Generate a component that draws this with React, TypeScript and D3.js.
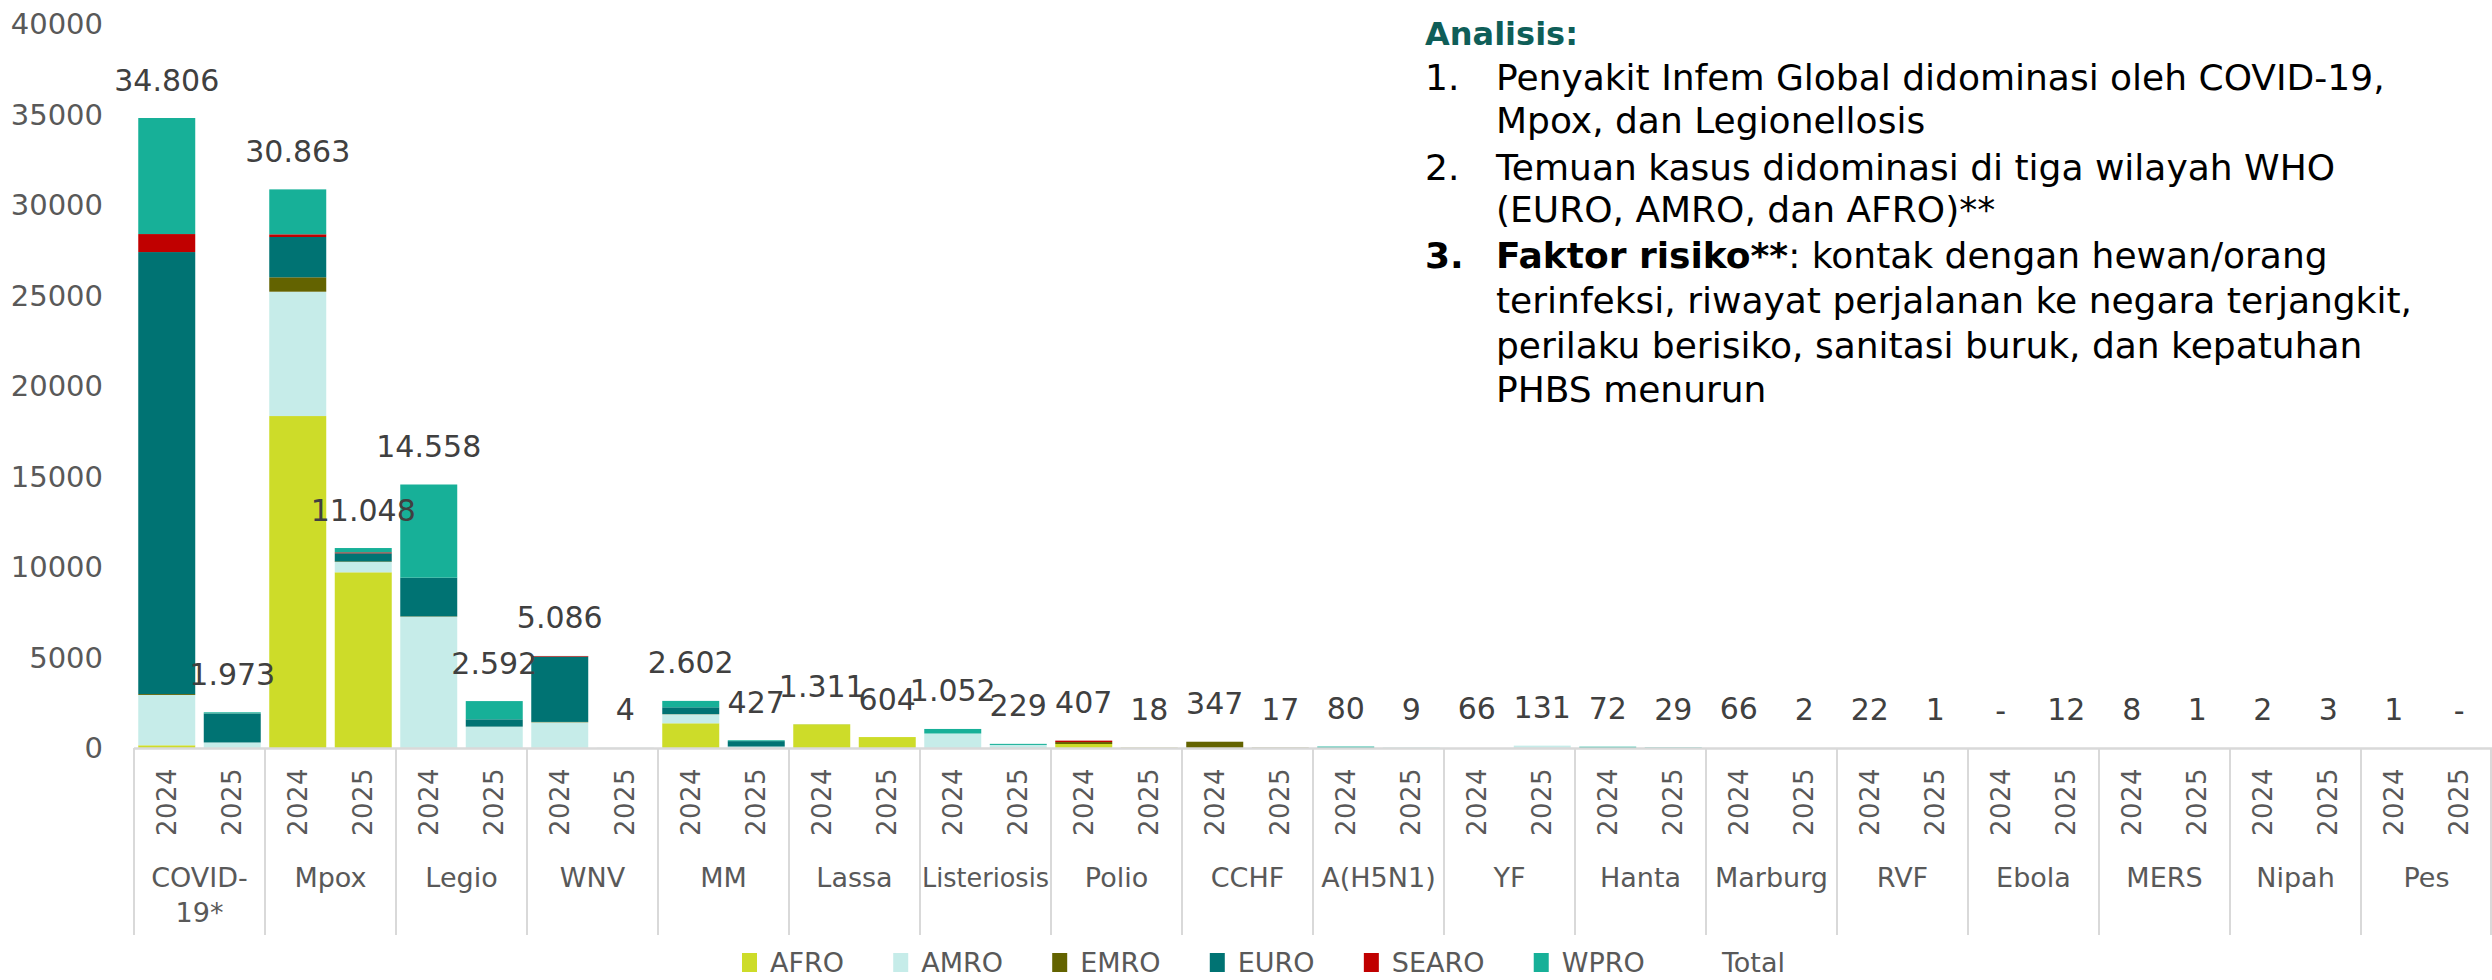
import React, { useEffect, useRef } from "react";
import * as d3 from "d3";

const W = 2492;
const H = 980;
const FONT = "'Century Gothic', 'DejaVu Sans', sans-serif";

const categories = [
  "COVID-19*", "Mpox", "Legio", "WNV", "MM", "Lassa", "Listeriosis", "Polio", "CCHF",
  "A(H5N1)", "YF", "Hanta", "Marburg", "RVF", "Ebola", "MERS", "Nipah", "Pes",
];
const years = ["2024", "2025"];
const regions = ["AFRO", "AMRO", "EMRO", "EURO", "SEARO", "WPRO"];
const regionColors = ["#CDDC29", "#C6ECE9", "#636300", "#007373", "#C00000", "#17B098"];

// [2024, 2025] per category
const AFRO = [[150, 5], [18340, 9707], [10, 0], [10, 0], [1365, 0], [1308, 604], [0, 0], [220, 10], [0, 0], [0, 0], [0, 0], [0, 0], [0, 0], [0, 0], [0, 0], [0, 0], [0, 0], [0, 0]];
const AMRO = [[2780, 300], [6870, 569], [7244, 1177], [1410, 0], [497, 80], [0, 0], [800, 170], [0, 0], [0, 0], [0, 0], [0, 131], [0, 0], [0, 0], [0, 0], [0, 0], [0, 0], [0, 0], [0, 0]];
const EMRO = [[50, 0], [796, 30], [20, 5], [20, 0], [10, 0], [0, 0], [0, 0], [110, 8], [347, 17], [0, 0], [0, 0], [0, 0], [0, 0], [0, 0], [0, 0], [0, 0], [0, 0], [0, 0]];
const EURO = [[24420, 1600], [2226, 451], [2135, 403], [3604, 4], [377, 300], [3, 0], [0, 0], [0, 0], [0, 0], [0, 0], [0, 0], [0, 0], [0, 0], [0, 0], [0, 0], [0, 0], [0, 0], [0, 0]];
const SEARO = [[995, 3], [149, 53], [0, 0], [36, 0], [0, 0], [0, 0], [0, 0], [77, 0], [0, 0], [0, 0], [0, 0], [0, 0], [0, 0], [0, 0], [0, 0], [0, 0], [0, 0], [0, 0]];
const WPRO = [[6411, 65], [2482, 238], [5149, 1007], [6, 0], [353, 47], [0, 0], [252, 59], [0, 0], [0, 0], [80, 9], [0, 0], [72, 29], [0, 0], [0, 0], [0, 0], [0, 0], [0, 0], [0, 0]];

const totals2024 = [34806, 30863, 14558, 5086, 2602, 1311, 1052, 407, 347, 80, 66, 72, 66, 22, 0, 8, 2, 1];
const totals2025 = [1973, 11048, 2592, 4, 427, 604, 229, 18, 17, 9, 131, 29, 2, 1, 12, 1, 3, 0];

const yTicks = [0, 5000, 10000, 15000, 20000, 25000, 30000, 35000, 40000];

const analysisTitle = "Analisis:";
const analysisItems = [
  { num: "1.", bold: "", lines: ["Penyakit Infem Global didominasi oleh COVID-19,", "Mpox, dan Legionellosis"] },
  { num: "2.", bold: "", lines: ["Temuan kasus didominasi di tiga wilayah WHO", "(EURO, AMRO, dan AFRO)**"] },
  { num: "3.", bold: "Faktor risiko**", lines: [": kontak dengan hewan/orang", "terinfeksi, riwayat perjalanan ke negara terjangkit,", "perilaku berisiko, sanitasi buruk, dan kepatuhan", "PHBS menurun"] },
];

const seriesData = [AFRO, AMRO, EMRO, EURO, SEARO, WPRO];

export default function App() {
  const ref = useRef<SVGSVGElement | null>(null);

  useEffect(() => {
    document.body.style.margin = "0";
    const svg = d3.select(ref.current);
    svg.selectAll("*").remove();

    const x0 = d3.scaleBand<string>().domain(categories).range([134, 2492]).paddingInner(0).paddingOuter(0);
    const x1 = d3.scaleBand<string>().domain(years).range([0, x0.bandwidth()]).paddingInner(0.13).paddingOuter(0.065);
    const y = d3.scaleLinear().domain([0, 40000]).range([748, 24]);

    const rows: any[] = [];
    categories.forEach((c, i) => {
      years.forEach((yr, j) => {
        const r: any = { cat: c, year: yr, total: j === 0 ? totals2024[i] : totals2025[i] };
        regions.forEach((reg, k) => (r[reg] = seriesData[k][i][j]));
        rows.push(r);
      });
    });

    const stack = d3.stack<any>().keys(regions);
    const layers = stack(rows);
    const bx = (d: any) => (x0(d.cat) as number) + (x1(d.year) as number);

    // bars
    const g = svg.append("g");
    layers.forEach((layer, k) => {
      g.append("g")
        .attr("fill", regionColors[k])
        .selectAll("rect")
        .data(layer)
        .join("rect")
        .attr("x", (d: any) => bx(d.data))
        .attr("width", x1.bandwidth())
        .attr("y", (d: any) => y(d[1]))
        .attr("height", (d: any) => Math.max(0, y(d[0]) - y(d[1])));
    });

    // axis line & separators
    const axisColor = "#D9D9D9";
    svg.append("line").attr("x1", 134).attr("x2", 2492).attr("y1", 748.5).attr("y2", 748.5)
      .attr("stroke", axisColor).attr("stroke-width", 2.5);
    const seps = categories.map((c) => x0(c) as number).concat([x0.range()[1] - 1]);
    svg.append("g").selectAll("line").data(seps).join("line")
      .attr("x1", (d) => d).attr("x2", (d) => d).attr("y1", 748).attr("y2", 935)
      .attr("stroke", axisColor).attr("stroke-width", 2);

    // y ticks
    svg.append("g").selectAll("text").data(yTicks).join("text")
      .attr("x", 103).attr("y", (d) => y(d))
      .attr("text-anchor", "end").attr("dominant-baseline", "central")
      .attr("font-family", FONT).attr("font-size", 29).attr("fill", "#595959")
      .text((d) => String(d));

    // year labels
    svg.append("g").selectAll("text").data(rows).join("text")
      .attr("transform", (d) => `translate(${bx(d) + x1.bandwidth() / 2},802) rotate(-90)`)
      .attr("text-anchor", "middle").attr("dominant-baseline", "central")
      .attr("font-family", FONT).attr("font-size", 26).attr("letter-spacing", 0.5).attr("fill", "#595959")
      .text((d) => d.year);

    // category labels (wrap at hyphen if too wide)
    const catG = svg.append("g");
    categories.forEach((c) => {
      const cx = (x0(c) as number) + x0.bandwidth() / 2;
      const t = catG.append("text").attr("x", cx).attr("y", 877)
        .attr("text-anchor", "middle").attr("dominant-baseline", "central")
        .attr("font-family", FONT).attr("font-size", 27).attr("fill", "#595959").text(c);
      const w = (t.node() as SVGTextElement).getComputedTextLength();
      if (w > x0.bandwidth() - 4 && c.includes("-")) {
        const idx = c.indexOf("-") + 1;
        t.text(null);
        t.append("tspan").attr("x", cx).attr("y", 877).text(c.slice(0, idx));
        t.append("tspan").attr("x", cx).attr("y", 912).text(c.slice(idx));
      } else if (w > x0.bandwidth() - 4) {
        t.attr("textLength", x0.bandwidth() - 4).attr("lengthAdjust", "spacingAndGlyphs");
      }
    });

    // total labels
    const fmt = d3.formatLocale({ decimal: ",", thousands: ".", grouping: [3], currency: ["", ""] }).format(",d");
    svg.append("g").selectAll("text").data(rows).join("text")
      .attr("x", (d) => bx(d) + x1.bandwidth() / 2)
      .attr("y", (d) => y(d.total) - 38)
      .attr("text-anchor", "middle").attr("dominant-baseline", "central")
      .attr("font-family", FONT).attr("font-size", 30).attr("fill", "#404040")
      .text((d) => (d.total === 0 ? "-" : fmt(d.total)));

    // legend
    const legendItems = regions.concat(["Total"]);
    const lg = svg.append("g");
    const items: any[] = [];
    legendItems.forEach((name, k) => {
      const it = lg.append("g");
      if (k < regions.length) {
        it.append("rect").attr("x", 0).attr("y", -9).attr("width", 15).attr("height", 19).attr("fill", regionColors[k]);
      }
      const t = it.append("text").attr("x", 28).attr("y", 0).attr("dominant-baseline", "central")
        .attr("font-family", FONT).attr("font-size", 27).attr("fill", "#595959").text(name);
      items.push({ g: it, w: 28 + (t.node() as SVGTextElement).getComputedTextLength() });
    });
    const legendStart = 742;
    const legendEnd = 1785;
    const gap = (legendEnd - legendStart - d3.sum(items, (d) => d.w)) / (items.length - 1);
    let cx = legendStart;
    items.forEach((it) => {
      it.g.attr("transform", `translate(${cx},962)`);
      cx += it.w + gap;
    });

    // analysis text
    const ag = svg.append("g").attr("font-family", FONT);
    ag.append("text").attr("x", 1425).attr("y", 45).attr("font-size", 32).attr("font-weight", "bold")
      .attr("fill", "#0F5E58").text(analysisTitle);
    const baselines = [[90, 133], [180, 222], [268, 313, 358, 402]];
    analysisItems.forEach((item, i) => {
      ag.append("text").attr("x", 1425).attr("y", baselines[i][0]).attr("font-size", 36)
        .attr("font-weight", item.bold ? "bold" : "normal").attr("fill", "#000").text(item.num);
      item.lines.forEach((ln, j) => {
        const t = ag.append("text").attr("x", 1496).attr("y", baselines[i][j]).attr("font-size", 36).attr("fill", "#000");
        if (j === 0 && item.bold) {
          t.append("tspan").attr("font-weight", "bold").text(item.bold);
          t.append("tspan").text(ln);
        } else {
          t.text(ln);
        }
      });
    });
  }, []);

  return <svg ref={ref} width={W} height={H} style={{ display: "block", background: "#fff" }} />;
}
